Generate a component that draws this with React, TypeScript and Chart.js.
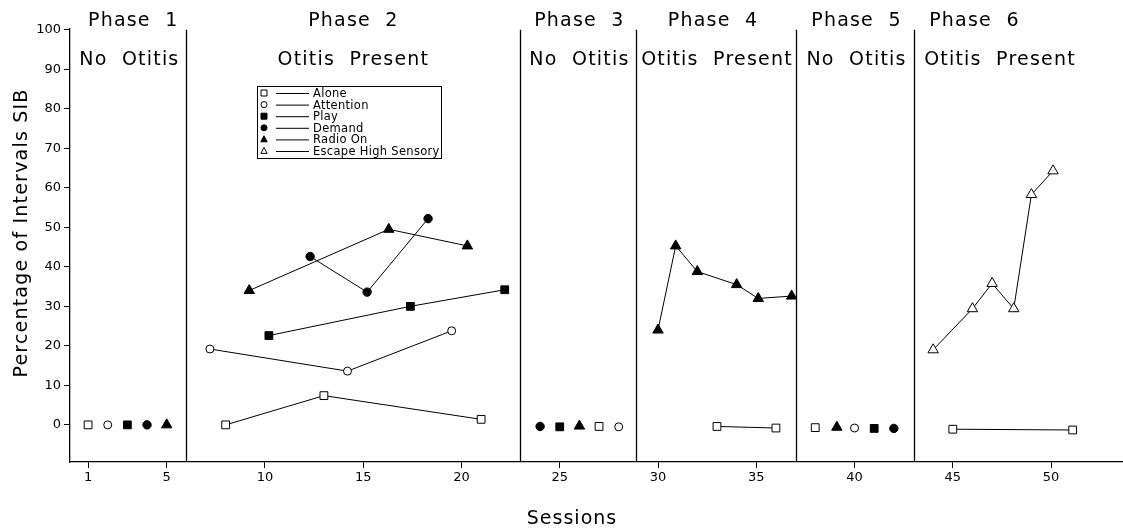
import React, { useEffect, useRef } from "react";
import { Chart, registerables } from "chart.js";

Chart.register(...registerables);

// ---- axis ticks ----
const xTickValues = [1, 5, 10, 15, 20, 25, 30, 35, 40, 45, 50];
const yTickValues = [0, 10, 20, 30, 40, 50, 60, 70, 80, 90, 100];

// ---- phases ----
const phaseBoundaries = [6, 23, 28.9, 37, 43];
const phaseNames = ["Phase  1", "Phase  2", "Phase  3", "Phase  4", "Phase  5", "Phase  6"];
const phaseConditions = ["No  Otitis", "Otitis  Present", "No  Otitis", "Otitis  Present", "No  Otitis", "Otitis  Present"];
const phaseNameX = [3.3, 14.5, 26.0, 32.8, 40.1, 46.1];
const phaseConditionX = [3.1, 14.5, 26.0, 33.0, 40.1, 47.4];

// ---- series (session, % intervals, phase) ----
const aloneSessions = [1, 8, 13, 21, 27, 33, 36, 38, 45, 51.1];
const aloneValues = [0, 0, 7.4, 1.4, -0.4, -0.4, -0.8, -0.7, -1.1, -1.3];
const alonePhases = [1, 2, 2, 2, 3, 4, 4, 5, 6, 6];

const attentionSessions = [2, 7.2, 14.2, 19.5, 28, 40];
const attentionValues = [0, 19.2, 13.6, 23.8, -0.5, -0.8];
const attentionPhases = [1, 2, 2, 2, 3, 5];

const playSessions = [3, 10.2, 17.4, 22.2, 25, 41];
const playValues = [0, 22.6, 30.0, 34.2, -0.5, -0.9];
const playPhases = [1, 2, 2, 2, 3, 5];

const demandSessions = [4, 12.3, 15.2, 18.3, 24, 42];
const demandValues = [0, 42.6, 33.6, 52.2, -0.4, -0.9];
const demandPhases = [1, 2, 2, 2, 3, 5];

const radioSessions = [5, 9.2, 16.3, 20.3, 26, 30, 30.9, 32, 34, 35.1, 36.8, 39.1];
const radioValues = [0, 34, 49.5, 45.3, -0.3, 24, 45.3, 38.8, 35.5, 32, 32.6, -0.6];
const radioPhases = [1, 2, 2, 2, 3, 4, 4, 4, 4, 4, 4, 5];

const escapeSessions = [44, 46, 47, 48.1, 49, 50.1];
const escapeValues = [19, 29.4, 35.8, 29.4, 58.3, 64.3];
const escapePhases = [6, 6, 6, 6, 6, 6];

const legendLabels = ["Alone", "Attention", "Play", "Demand", "Radio On", "Escape High Sensory"];

type Pt = { x: number; y: number | null };

function buildSeries(xs: number[], ys: number[], phases: number[]): Pt[] {
  const out: Pt[] = [];
  for (let i = 0; i < xs.length; i++) {
    if (i > 0 && phases[i] !== phases[i - 1]) {
      out.push({ x: (xs[i] + xs[i - 1]) / 2, y: null });
    }
    out.push({ x: xs[i], y: ys[i] });
  }
  return out;
}

const FONT = "'DejaVu Sans', Verdana, sans-serif";

type MarkerKind = "openSquare" | "openCircle" | "filledSquare" | "filledCircle" | "filledTriangle" | "openTriangle";
const markerKinds: MarkerKind[] = ["openSquare", "openCircle", "filledSquare", "filledCircle", "filledTriangle", "openTriangle"];

function drawMarker(ctx: CanvasRenderingContext2D, kind: MarkerKind, x: number, y: number, s: number) {
  ctx.save();
  ctx.lineWidth = 1;
  ctx.strokeStyle = "#000";
  const filled = kind.startsWith("filled");
  ctx.fillStyle = filled ? "#000" : "#fff";
  ctx.beginPath();
  if (kind.endsWith("Square")) {
    ctx.rect(x - s, y - s, 2 * s, 2 * s);
  } else if (kind.endsWith("Circle")) {
    ctx.arc(x, y, s, 0, Math.PI * 2);
  } else {
    ctx.moveTo(x, y - s * 1.2);
    ctx.lineTo(x + s * 1.05, y + s * 0.8);
    ctx.lineTo(x - s * 1.05, y + s * 0.8);
    ctx.closePath();
  }
  ctx.fill();
  ctx.stroke();
  ctx.restore();
}

const decorPlugin = {
  id: "decor",
  beforeDatasetsDraw(chart: any) {
    const { ctx, scales } = chart;
    const xs = scales.x;
    const ys = scales.y;
    ctx.save();
    ctx.strokeStyle = "#000";
    ctx.lineWidth = 1.3;
    const top = ys.getPixelForValue(100);
    const bottom = chart.chartArea.bottom;
    phaseBoundaries.forEach((b) => {
      const px = Math.round(xs.getPixelForValue(b)) + 0.5;
      ctx.beginPath();
      ctx.moveTo(px, top);
      ctx.lineTo(px, bottom);
      ctx.stroke();
    });
    ctx.restore();
  },
  afterDraw(chart: any) {
    const { ctx, scales } = chart;
    const xs = scales.x;
    ctx.save();
    ctx.fillStyle = "#000";
    ctx.textAlign = "center";
    ctx.textBaseline = "middle";
    (ctx as any).letterSpacing = "1.2px";
    ctx.font = `19px ${FONT}`;
    phaseNames.forEach((n, i) => {
      ctx.fillText(n, xs.getPixelForValue(phaseNameX[i]), 21);
    });
    phaseConditions.forEach((n, i) => {
      ctx.fillText(n, xs.getPixelForValue(phaseConditionX[i]), 60);
    });

    // axis titles
    (ctx as any).letterSpacing = "1px";
    ctx.font = `19px ${FONT}`;
    ctx.fillText("Sessions", 572, 519);
    ctx.save();
    ctx.translate(22, 233);
    ctx.rotate(-Math.PI / 2);
    (ctx as any).letterSpacing = "1.2px";
    ctx.font = `19px ${FONT}`;
    ctx.fillText("Percentage of Intervals SIB", 0, 0);
    ctx.restore();

    // legend box
    (ctx as any).letterSpacing = "0.3px";
    const lx = 257, ly = 86, lw = 184, lh = 72;
    ctx.fillStyle = "#fff";
    ctx.fillRect(lx, ly, lw, lh);
    ctx.strokeStyle = "#000";
    ctx.lineWidth = 1;
    ctx.strokeRect(lx + 0.5, ly + 0.5, lw, lh);
    ctx.font = `11.5px ${FONT}`;
    ctx.textAlign = "left";
    legendLabels.forEach((lab, i) => {
      const ry = ly + 7 + i * 11.6;
      drawMarker(ctx, markerKinds[i], lx + 7, ry, 3);
      ctx.beginPath();
      ctx.moveTo(lx + 19, ry + 0.5);
      ctx.lineTo(lx + 52, ry + 0.5);
      ctx.lineWidth = 1;
      ctx.stroke();
      ctx.fillStyle = "#000";
      ctx.fillText(lab, lx + 56, ry + 1);
    });
    ctx.restore();
  },
};

function ds(label: string, data: Pt[], style: string, filled: boolean, radius: number) {
  return {
    label,
    data,
    borderColor: "#000",
    borderWidth: 1,
    pointStyle: style,
    pointRadius: radius,
    pointBorderWidth: 1,
    pointBorderColor: "#000",
    pointBackgroundColor: filled ? "#000" : "#fff",
    spanGaps: false,
    tension: 0,
    clip: false,
  };
}

export default function App() {
  const ref = useRef<HTMLCanvasElement | null>(null);
  useEffect(() => {
    document.body.style.margin = "0";
    const canvas = ref.current;
    if (!canvas) return;
    const chart = new Chart(canvas, {
      type: "line",
      data: {
        datasets: [
          ds("Alone", buildSeries(aloneSessions, aloneValues, alonePhases), "rect", false, 5.5),
          ds("Attention", buildSeries(attentionSessions, attentionValues, attentionPhases), "circle", false, 4),
          ds("Play", buildSeries(playSessions, playValues, playPhases), "rect", true, 5.5),
          ds("Demand", buildSeries(demandSessions, demandValues, demandPhases), "circle", true, 4.2),
          ds("Radio On", buildSeries(radioSessions, radioValues, radioPhases), "triangle", true, 6),
          ds("Escape High Sensory", buildSeries(escapeSessions, escapeValues, escapePhases), "triangle", false, 6),
        ] as any,
      },
      options: {
        animation: false,
        responsive: false,
        layout: { autoPadding: false, padding: { top: 29, right: 0, left: 0, bottom: 0 } },
        plugins: { legend: { display: false }, tooltip: { enabled: false } },
        scales: {
          x: {
            type: "linear",
            min: 0.08,
            max: 53.66,
            afterFit: (s: any) => {
              s.height = 67;
              s.paddingRight = 0;
              s.paddingLeft = 0;
            },
            afterBuildTicks: (s: any) => {
              s.ticks = xTickValues.map((v) => ({ value: v }));
            },
            ticks: {
              color: "#000",
              font: { family: FONT, size: 13 },
              padding: 2,
              autoSkip: false,
              maxRotation: 0,
              callback: (v: any) => String(v),
            },
            grid: { drawOnChartArea: false, tickLength: 6, color: "#000", lineWidth: 1 },
            border: { color: "#000", width: 1.3 },
          },
          y: {
            type: "linear",
            min: -9.4,
            max: 100.2,
            afterFit: (s: any) => {
              s.width = 70;
              s.paddingTop = 0;
              s.paddingBottom = 0;
            },
            afterBuildTicks: (s: any) => {
              s.ticks = yTickValues.map((v) => ({ value: v }));
            },
            ticks: {
              color: "#000",
              font: { family: FONT, size: 13 },
              padding: 3,
              autoSkip: false,
              callback: (v: any) => String(v),
            },
            grid: { drawOnChartArea: false, tickLength: 6, color: "#000", lineWidth: 1 },
            border: { color: "#000", width: 1.3 },
          },
        },
      } as any,
      plugins: [decorPlugin],
    });
    return () => chart.destroy();
  }, []);
  return (
    <div style={{ width: 1123, height: 529, background: "#fff" }}>
      <canvas ref={ref} width={1123} height={529} style={{ display: "block" }} />
    </div>
  );
}
